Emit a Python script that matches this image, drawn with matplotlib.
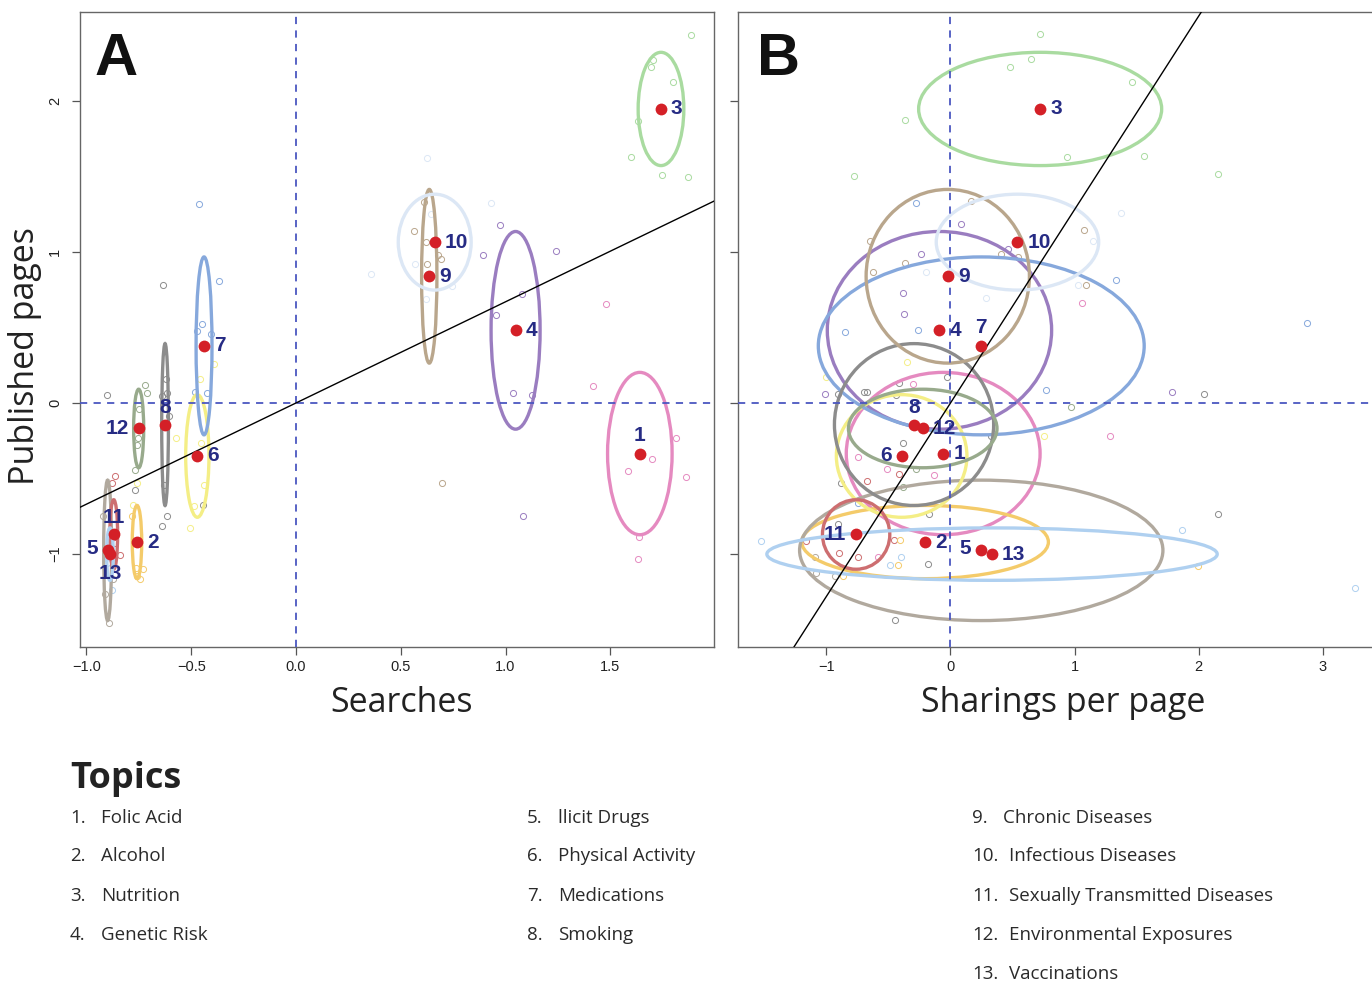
import matplotlib
matplotlib.use("Agg")
import matplotlib.pyplot as plt
from matplotlib.patches import Ellipse
import numpy as np

# ── topic summary (means and spread of each topic) ───────────────────────
topic_ids = list(range(1, 14))
topic_names = ["Folic Acid", "Alcohol", "Nutrition", "Genetic Risk", "llicit Drugs",
               "Physical Activity", "Medications", "Smoking", "Chronic Diseases",
               "Infectious Diseases", "Sexually Transmitted Diseases",
               "Environmental Exposures", "Vaccinations"]
pages_mean    = [-0.335, -0.921, 1.947, 0.481, -0.976, -0.351, 0.378, -0.143, 0.839, 1.065, -0.871, -0.169, -1.001]
searches_mean = [1.641, -0.759, 1.742, 1.048, -0.899, -0.471, -0.439, -0.625, 0.636, 0.662, -0.870, -0.751, -0.888]
sharings_mean = [-0.059, -0.205, 0.723, -0.089, 0.248, -0.394, 0.248, -0.294, -0.022, 0.540, -0.761, -0.224, 0.335]

pages_spread    = [1.075, 0.485, 0.750, 1.309, 0.930, 0.812, 1.178, 1.072, 1.150, 0.635, 0.460, 0.520, 0.347]
searches_spread = [0.308, 0.045, 0.218, 0.234, 0.038, 0.111, 0.076, 0.032, 0.073, 0.348, 0.037, 0.048, 0.032]
sharings_spread = [1.563, 1.989, 1.960, 1.809, 2.930, 1.053, 2.628, 1.284, 1.317, 1.310, 0.543, 1.198, 3.632]

slope_a = 0.67
slope_b = 1.28

# ── individual items: (topic, x, y) ──────────────────────────────────────
a_topic = [3, 3, 3, 3, 3, 3, 3, 3,
           10, 10, 10, 10, 10, 10, 10,
           4, 4, 4, 4, 4, 4, 4, 4,
           1, 1, 1, 1, 1, 1, 1, 1,
           9, 9, 9, 9, 9, 9, 9,
           7, 7, 7, 7, 7, 7, 7,
           8, 8, 8, 8, 8, 8, 8, 8, 8, 8, 8,
           12, 12, 12, 12, 12, 12,
           6, 6, 6, 6, 6, 6, 6, 6, 6,
           11, 11, 11, 11,
           2, 2, 2, 2, 2,
           5, 5, 5, 5,
           13, 13]
a_x = [1.885, 1.703, 1.695, 1.798, 1.631, 1.597, 1.749, 1.872,
       0.627, 0.931, 0.644, 0.567, 0.360, 0.746, 0.621,
       0.972, 0.892, 1.242, 1.079, 0.954, 1.037, 1.125, 1.084,
       1.480, 1.416, 1.814, 1.698, 1.583, 1.860, 1.639, 1.631,
       0.610, 0.561, 0.619, 0.676, 0.693, 0.623, 0.695,
       -0.464, -0.368, -0.447, -0.472, -0.408, -0.481, -0.426,
       -0.635, -0.904, -0.619, -0.617, -0.638, -0.605, -0.770, -0.630, -0.616, -0.640, -0.442,
       -0.719, -0.710, -0.751, -0.756, -0.760, -0.770,
       -0.391, -0.458, -0.571, -0.455, -0.438, -0.485, -0.507, -0.759, -0.778,
       -0.866, -0.877, -0.839, -0.864,
       -0.784, -0.765, -0.732, -0.757, -0.745,
       -0.920, -0.913, -0.893, -0.872,
       -0.880, -0.904]
a_y = [2.439, 2.274, 2.225, 2.124, 1.868, 1.631, 1.510, 1.497,
       1.623, 1.325, 1.254, 0.923, 0.857, 0.775, 0.691,
       1.179, 0.978, 1.009, 0.720, 0.581, 0.064, 0.051, -0.750,
       0.658, 0.115, -0.232, -0.371, -0.448, -0.490, -0.885, -1.035,
       1.333, 1.139, 1.066, 0.980, 0.956, 0.923, -0.530,
       1.320, 0.808, 0.521, 0.475, 0.459, 0.073, 0.064,
       0.778, 0.053, 0.159, 0.064, 0.046, -0.084, -0.576, -0.541, -0.748, -0.812, -0.673,
       0.119, 0.064, -0.040, -0.234, -0.278, -0.444,
       0.258, 0.159, -0.232, -0.263, -0.541, -0.680, -0.826, -0.532, -0.673,
       -0.483, -0.532, -1.009, -0.929,
       -0.746, -1.093, -1.097, -1.148, -1.163,
       -0.748, -1.267, -1.459, -1.163,
       -1.238, -1.062]

b_topic = [3, 3, 3, 3, 3, 3, 3, 3, 3,
           7, 9, 4, 10, 9, 10, 9, 4, 9, 9, 10, 4, 9, 9, 7, 10, 9, 1, 10, 4, 4, 7, 7, 7,
           6, 6, 4, 8, 8, 8, 8, 1, 8, 8, 7, 4, 8, 12, 1, 6, 8, 8, 1, 12, 1, 11, 1, 11,
           8, 12, 7, 8, 8, 13, 8, 13, 11, 11, 2, 5, 11, 1, 11, 13, 13, 2, 8, 2,
           5, 5, 2, 13, 8]
b_x = [0.722, 0.653, 0.482, 1.460, -0.367, 0.943, 1.562, -0.775, 2.154,
       -0.275, 0.166, 0.087, 1.371, 1.075, 1.150, -0.653, -0.239, -0.370, -0.627, -0.196, 0.466,
       0.406, 0.548, 1.338, 1.025, 1.095, 1.058, 0.288, -0.384, -0.373, -0.854, -0.262, 2.874,
       -0.351, -1.002, -1.015, -0.907, -0.696, -0.670, -0.443, -0.301, -0.416, -0.032, 0.772,
       1.789, 2.042, 0.969, 1.288, 0.752, 0.327, -0.384, -0.743, -0.275, -0.515, -0.416, -0.134,
       -0.676, -0.880, -0.381, -0.743, -0.177, 2.154, 1.865, -0.907, -1.526, -1.164, -0.453,
       -0.410, -1.095, -0.900, -0.585, -0.743, -0.400, -0.486, -0.427, -0.180, 1.993,
       -1.081, -0.934, -0.867, 3.260, -0.449]
b_y = [2.441, 2.280, 2.228, 2.127, 1.871, 1.628, 1.636, 1.502, 1.515,
       1.326, 1.338, 1.187, 1.260, 1.144, 1.074, 1.074, 0.987, 0.928, 0.864, 0.864, 1.020,
       0.985, 0.966, 0.813, 0.783, 0.783, 0.664, 0.697, 0.729, 0.589, 0.471, 0.481, 0.527,
       0.272, 0.170, 0.061, 0.061, 0.075, 0.075, 0.053, 0.126, 0.129, 0.170, 0.083,
       0.072, 0.061, -0.027, -0.221, -0.218, -0.221, -0.264, -0.358, -0.434, -0.434, -0.469, -0.477,
       -0.520, -0.531, -0.558, -0.662, -0.738, -0.738, -0.838, -0.800, -0.911, -0.911, -0.907,
       -0.905, -1.018, -0.992, -1.021, -1.018, -1.018, -1.072, -1.072, -1.069, -1.080,
       -1.128, -1.147, -1.147, -1.228, -1.440]

# ── styles ───────────────────────────────────────────────────────────────
COLORS = {1: "#E58AC0", 2: "#F4CB6A", 3: "#A9DBA0", 4: "#9A7DC0", 5: "#B1A99E",
          6: "#F4EE86", 7: "#86A8DC", 8: "#8C8C8C", 9: "#B9A68C", 10: "#DCE7F5",
          11: "#CD6E70", 12: "#98AA8C", 13: "#AFD0F0"}
NAVY = "#262B84"
DOT_RED = "#D42027"
DASH_BLUE = "#4B57C0"

RIGHT = (10, 0, "left", "center")
label_pos_a = {1: (0, 18, "center", "center"), 5: (-10, 2, "right", "center"),
               8: (0, 17, "center", "center"), 11: (0, 17, "center", "center"),
               12: (-10, 0, "right", "center"), 13: (0, -19, "center", "center")}
label_pos_b = {5: (-10, 2, "right", "center"), 6: (-10, 0, "right", "center"),
               7: (0, 18, "center", "center"), 8: (0, 17, "center", "center"),
               11: (-10, 0, "right", "center")}

plt.rcParams["font.family"] = ["Liberation Sans", "DejaVu Sans"]

W, H = 1372, 984
fig = plt.figure(figsize=(W / 100, H / 100), dpi=100)

def px_axes(l, t, r, b):
    return fig.add_axes([l / W, 1 - b / H, (r - l) / W, (b - t) / H])

ax_a = px_axes(80, 12, 714, 647)
ax_b = px_axes(738, 12, 1388, 647)


def draw_panel(ax, xs_mean, x_spread, pts, slope, label_pos, letter):
    # items
    for t, x, y in zip(pts[0], pts[1], pts[2]):
        ax.plot(x, y, "o", ms=4.4, mfc="none", mec=COLORS[t], mew=0.7, zorder=2)
    # spread ellipses
    for i, t in enumerate(topic_ids):
        ax.add_patch(Ellipse((xs_mean[i], pages_mean[i]), x_spread[i], pages_spread[i],
                             fill=False, ec=COLORS[t], lw=2.4, zorder=3))
    ax.axhline(0, color=DASH_BLUE, lw=1.3, ls=(0, (4, 3.5)), zorder=4)
    ax.axvline(0, color=DASH_BLUE, lw=1.3, ls=(0, (4, 3.5)), zorder=4)
    xx = np.array([-3.0, 5.0])
    ax.plot(xx, slope * xx, color="black", lw=1.0, zorder=5)
    ax.plot(xs_mean, pages_mean, "o", ms=8.5, color=DOT_RED, mec="none", zorder=6)
    for i, t in enumerate(topic_ids):
        dx, dy, ha, va = label_pos.get(t, RIGHT)
        ax.annotate(str(t), (xs_mean[i], pages_mean[i]), xytext=(dx, dy),
                    textcoords="offset pixels", ha=ha, va=va, fontsize=15,
                    fontweight="bold", color=NAVY, zorder=7)
    ax.text(0.0, 1.0, letter, transform=ax.transAxes, fontsize=43, fontweight="bold",
            color="#111111", ha="left", va="baseline")
    for s in ax.spines.values():
        s.set_color("#666666")
        s.set_linewidth(1.0)
    ax.tick_params(direction="out", length=6, width=0.9, color="#555555",
                   labelsize=10.5, labelcolor="#222222")
    ax.set_ylim(-1.616, 2.589)
    ax.set_yticks([-1, 0, 1, 2])


draw_panel(ax_a, searches_mean, searches_spread, (a_topic, a_x, a_y), slope_a, label_pos_a, "A")
draw_panel(ax_b, sharings_mean, sharings_spread, (b_topic, b_x, b_y), slope_b, label_pos_b, "B")

ax_a.set_xlim(-1.031, 1.995)
ax_a.set_xticks([-1.0, -0.5, 0.0, 0.5, 1.0, 1.5])
ax_a.set_xticklabels(["\u22121.0", "\u22120.5", "0.0", "0.5", "1.0", "1.5"])
ax_a.set_yticklabels(["\u22121", "0", "1", "2"], rotation=90, va="center")
ax_a.tick_params(axis="y", pad=7)
ax_a.texts[-1].set_position(((95 - 80) / 634, (647 - 75) / 635))

ax_b.set_xlim((738 - 950.5) / 124, (1388 - 950.5) / 124)
ax_b.set_xticks([-1, 0, 1, 2, 3])
ax_b.set_xticklabels(["\u22121", "0", "1", "2", "3"])
ax_b.set_yticklabels([])
ax_b.texts[-1].set_position(((757 - 738) / 650, (647 - 75) / 635))

# axis titles
OPEN = ["Open Sans", "DejaVu Sans"]
TXT = "#222222"
fig.text(402 / W, 1 - 703 / H, "Searches", family=OPEN, fontsize=24.5,
         ha="center", va="center", color=TXT)
fig.text(1063 / W, 1 - 703 / H, "Sharings per page", family=OPEN, fontsize=24.5,
         ha="center", va="center", color=TXT)
fig.text(25 / W, 1 - 356 / H, "Published pages", family=OPEN, fontsize=24.5,
         rotation=90, ha="center", va="center", color=TXT)

# topic key
fig.text(70 / W, 1 - 788 / H, "Topics", family=OPEN, fontsize=26, fontweight="bold",
         ha="left", va="baseline", color=TXT)
col_x = [70, 527, 972]
row_y = [818, 856, 896, 935, 974]
columns = [[1, 2, 3, 4], [5, 6, 7, 8], [9, 10, 11, 12, 13]]
for c, ids in enumerate(columns):
    for r, t in enumerate(ids):
        y = 1 - row_y[r] / H
        fig.text(col_x[c] / W, y, f"{t}.", family=OPEN, fontsize=13.5,
                 ha="left", va="center", color="#2a2a2a")
        off = 31 if t < 10 else 37
        fig.text((col_x[c] + off) / W, y, topic_names[t - 1], family=OPEN, fontsize=13.5,
                 ha="left", va="center", color="#2a2a2a")

fig.savefig("out.png", dpi=100)
